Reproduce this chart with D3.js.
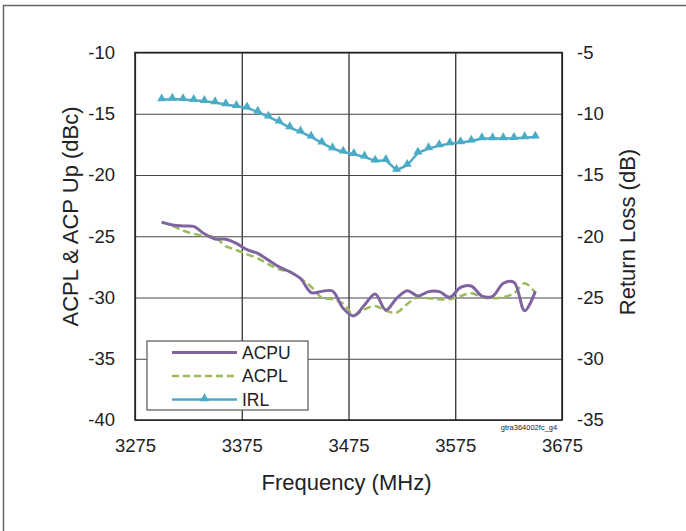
<!DOCTYPE html>
<html>
<head>
<meta charset="utf-8">
<script src="https://cdn.jsdelivr.net/npm/d3@7"></script>
<style>
  body { margin: 0; background: #fff; }
  svg text { font-family: "Liberation Sans", Arial, sans-serif; fill: #222; }
</style>
</head>
<body>
<div id="chart"></div>
<script>
'use strict';

// frequency points (MHz)
const freqs = [3300, 3310, 3320, 3330, 3340, 3350, 3360, 3370, 3380, 3390,
    3400, 3410, 3420, 3430, 3440, 3450, 3460, 3470, 3480, 3490,
    3500, 3510, 3520, 3530, 3540, 3550, 3560, 3570, 3580, 3590,
    3600, 3610, 3620, 3630, 3640, 3650];

// ACP upper (dBc)
const acpu = [-23.85, -24.08, -24.16, -24.2, -24.8, -25.22, -25.24, -25.58, -26.1, -26.4,
    -26.95, -27.5, -27.9, -28.45, -29.6, -29.5, -29.47, -30.88, -31.5, -30.61,
    -29.72, -31.02, -30.07, -29.44, -29.88, -29.52, -29.52, -29.98, -29.17, -29.06,
    -29.88, -29.9, -28.84, -28.75, -31.08, -29.5];

// ACP lower (dBc)
const acpl = [-23.86, -24.14, -24.54, -24.8, -24.98, -25.09, -25.8, -26.12, -26.48, -26.8,
    -27.29, -27.7, -27.9, -28.44, -29.12, -30.01, -30.15, -30.5, -31.43, -30.97,
    -30.69, -31.08, -31.24, -30.53, -29.98, -30.07, -30.15, -30.15, -29.88, -29.66,
    -29.98, -30.07, -29.98, -29.66, -28.84, -29.6];

// input return loss (dB)
const irl = [-8.85, -8.8, -8.83, -8.9, -8.98, -9.09, -9.25, -9.39, -9.52, -9.85,
    -10.26, -10.67, -11.13, -11.48, -11.89, -12.38, -12.84, -13.12, -13.31, -13.52,
    -13.85, -13.8, -14.61, -14.2, -13.2, -12.84, -12.6, -12.43, -12.35, -12.22,
    -12.02, -12.02, -12.02, -12.0, -11.95, -11.89];

const xTicks = [3275, 3375, 3475, 3575, 3675];
const yLeftTicks = [-10, -15, -20, -25, -30, -35, -40];
const yRightTicks = [-5, -10, -15, -20, -25, -30, -35];

const colors = { acpu: "#8064a2", acpl: "#9bbb59", irl: "#4bacc6" };

const W = 686, H = 531;
const margin = { left: 135, top: 52.5 };
const width = 427, height = 367.5;

const svg = d3.select("#chart").append("svg")
    .attr("width", W)
    .attr("height", H);

// outer frame
svg.append("rect")
    .attr("x", 3.5).attr("y", 5.5)
    .attr("width", 720).attr("height", 560)
    .attr("fill", "none")
    .attr("stroke", "#666")
    .attr("stroke-width", 1.5);

const g = svg.append("g")
    .attr("transform", "translate(" + margin.left + "," + margin.top + ")");

const x = d3.scaleLinear().domain([3275, 3675]).range([0, width]);
const yL = d3.scaleLinear().domain([-40, -10]).range([height, 0]);
const yR = d3.scaleLinear().domain([-35, -5]).range([height, 0]);

// plain hyphen minus like the original
const fmt = d => String(d);

// gridlines
g.append("g")
    .call(d3.axisBottom(x).tickValues(xTicks).tickSize(height).tickFormat(""))
    .call(s => s.select(".domain").remove())
    .call(s => s.selectAll("line").attr("stroke", "#222").attr("stroke-width", 1.2));

g.append("g")
    .call(d3.axisLeft(yL).tickValues(yLeftTicks).tickSize(-width).tickFormat(""))
    .call(s => s.select(".domain").remove())
    .call(s => s.selectAll("line").attr("stroke", "#444").attr("stroke-width", 1.2));

// plot border
g.append("rect")
    .attr("width", width).attr("height", height)
    .attr("fill", "none")
    .attr("stroke", "#222")
    .attr("stroke-width", 1.5);

// axis labels
const lblSize = "18.5px";
g.append("g")
    .call(d3.axisLeft(yL).tickValues(yLeftTicks).tickSize(0).tickPadding(20).tickFormat(fmt))
    .call(s => s.select(".domain").remove())
    .call(s => s.selectAll("text").style("font-size", lblSize).attr("fill", "#222"));

g.append("g")
    .attr("transform", "translate(" + width + ",0)")
    .call(d3.axisRight(yR).tickValues(yRightTicks).tickSize(0).tickPadding(15).tickFormat(fmt))
    .call(s => s.select(".domain").remove())
    .call(s => s.selectAll("text").style("font-size", lblSize).attr("fill", "#222"));

g.append("g")
    .attr("transform", "translate(0," + height + ")")
    .call(d3.axisBottom(x).tickValues(xTicks).tickSize(0).tickPadding(18.5).tickFormat(fmt))
    .call(s => s.select(".domain").remove())
    .call(s => s.selectAll("text").style("font-size", lblSize).attr("fill", "#222"));

// titles
svg.append("text")
    .attr("x", margin.left + width / 2 - 2)
    .attr("y", 490)
    .attr("text-anchor", "middle")
    .style("font-size", "22px")
    .text("Frequency (MHz)");

svg.append("text")
    .attr("transform", "translate(78,216.5) rotate(-90)")
    .attr("text-anchor", "middle")
    .style("font-size", "22px")
    .text("ACPL & ACP Up (dBc)");

svg.append("text")
    .attr("transform", "translate(635,232) rotate(-90)")
    .attr("text-anchor", "middle")
    .style("font-size", "22px")
    .text("Return Loss (dB)");

svg.append("text")
    .attr("x", 529)
    .attr("y", 430)
    .attr("text-anchor", "middle")
    .style("font-size", "7.5px")
    .text("gtra364002fc_g4");

// series
const lineL = (vals) => d3.line()
    .x((d, i) => x(freqs[i]))
    .y(d => yL(d))
    .curve(d3.curveCatmullRom.alpha(0.5))(vals);

g.append("path")
    .attr("d", lineL(acpl))
    .attr("fill", "none")
    .attr("stroke", colors.acpl)
    .attr("stroke-width", 2.5)
    .attr("stroke-dasharray", "7.5,4");

g.append("path")
    .attr("d", lineL(acpu))
    .attr("fill", "none")
    .attr("stroke", colors.acpu)
    .attr("stroke-width", 3);

const lineR = d3.line()
    .x((d, i) => x(freqs[i]))
    .y(d => yR(d));

g.append("path")
    .attr("d", lineR(irl))
    .attr("fill", "none")
    .attr("stroke", colors.irl)
    .attr("stroke-width", 2.5);

const tri = d3.symbol().type(d3.symbolTriangle).size(36);
g.selectAll(".irlMarker")
    .data(irl)
    .enter()
    .append("path")
    .attr("class", "irlMarker")
    .attr("d", tri)
    .attr("transform", (d, i) => "translate(" + x(freqs[i]) + "," + (yR(d) - 1) + ")")
    .attr("fill", colors.irl);

// legend
const legend = svg.append("g").attr("transform", "translate(147,341)");
legend.append("rect")
    .attr("width", 161).attr("height", 69)
    .attr("fill", "#fff")
    .attr("stroke", "#555")
    .attr("stroke-width", 1.2);

const legendItems = [
    { name: "ACPU", color: colors.acpu, dash: null, w: 3, marker: false },
    { name: "ACPL", color: colors.acpl, dash: "7,4", w: 2.5, marker: false },
    { name: "IRL", color: colors.irl, dash: null, w: 2.5, marker: true }
];

legendItems.forEach((it, i) => {
    const cy = 11.5 + i * 23.5;
    legend.append("line")
        .attr("x1", 25).attr("x2", 90)
        .attr("y1", cy).attr("y2", cy)
        .attr("stroke", it.color)
        .attr("stroke-width", it.w)
        .attr("stroke-dasharray", it.dash);
    if (it.marker) {
        legend.append("path")
            .attr("d", tri)
            .attr("transform", "translate(57.5," + (cy - 1) + ")")
            .attr("fill", it.color);
    }
    legend.append("text")
        .attr("x", 95)
        .attr("y", cy + 6)
        .style("font-size", "17.5px")
        .text(it.name);
});
</script>
</body>
</html>
